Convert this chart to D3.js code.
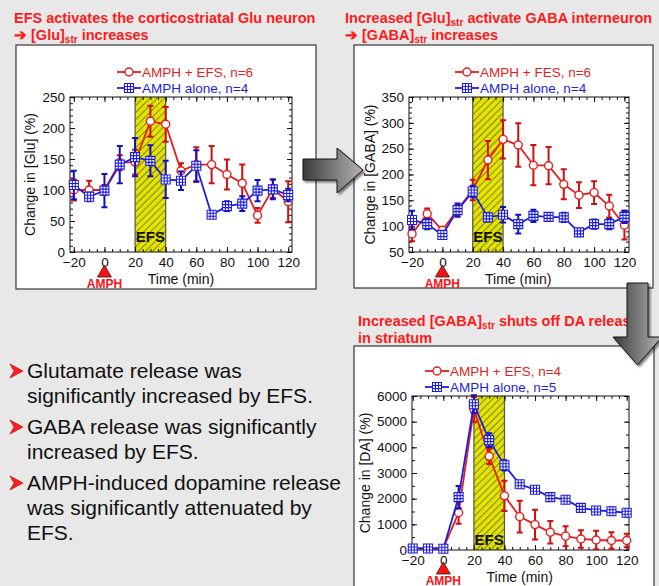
<!DOCTYPE html>
<html lang="en">
<head>
<meta charset="utf-8">
<title>EFS / AMPH microdialysis</title>
<script src="https://cdnjs.cloudflare.com/ajax/libs/d3/7.8.5/d3.min.js"></script>
<style>
  html, body { margin: 0; padding: 0; background: #e8e8e8; }
  svg { display: block; font-family: "Liberation Sans", Arial, sans-serif; }
  .tick-label { font-size: 13.5px; fill: #111; }
  .axis-title { font-size: 14px; fill: #111; }
  .legend { font-size: 13.5px; }
  .slide-title { font-size: 14.5px; font-weight: bold; fill: #ff1a1a; }
  .bullet { font-size: 21px; fill: #111; }
</style>
</head>
<body>
<svg id="slide" width="659" height="586"></svg>
<script>
// ---------------------------------------------
// data
// ---------------------------------------------
var times = [-20, -10, 0, 10, 20, 30, 40, 50, 60, 70, 80, 90, 100, 110, 120];

// glutamate (% of baseline)
var gluEfs      = [100, 100, 100, 144, 145, 211, 206, 131, 141, 141, 125, 111, 59, 102, 81];
var gluEfsErr   = [17, 15, 8, 12, 20, 25, 28, 12, 28, 30, 24, 30, 12, 15, 33];
var gluAlone    = [108, 89, 99, 141, 153, 147, 117, 115, 139, 60, 74, 78, 99, 101, 92];
var gluAloneErr = [23, 7, 27, 30, 31, 25, 30, 15, 25, 5, 8, 12, 17, 16, 10];

// GABA (% of baseline)
var gabaEfs      = [85, 124, 92, 132, 170, 228, 268, 257, 218, 217, 181, 160, 165, 139, 102];
var gabaEfsErr   = [14, 10, 5, 10, 20, 37, 37, 42, 39, 36, 29, 25, 22, 22, 28];
var gabaAlone    = [112, 104, 83, 131, 167, 117, 122, 104, 120, 118, 117, 88, 104, 104, 118];
var gabaAloneErr = [18, 10, 8, 13, 11, 8, 15, 18, 12, 5, 9, 7, 9, 10, 12];

// dopamine (% of baseline)
var daEfs      = [60, 60, 60, 1450, 5480, 3650, 2110, 1300, 990, 690, 540, 430, 390, 370, 370];
var daEfsErr   = [40, 40, 40, 430, 480, 300, 590, 620, 580, 440, 390, 340, 360, 320, 260];
var daAlone    = [60, 60, 50, 2060, 5680, 4280, 3300, 2560, 2350, 2060, 1960, 1640, 1540, 1510, 1450];
var daAloneErr = [40, 40, 40, 430, 350, 270, 200, 100, 100, 80, 80, 100, 80, 150, 150];

// axis ticks
var timeTicks = [-20, 0, 20, 40, 60, 80, 100, 120];
var gluTicks  = [0, 50, 100, 150, 200, 250];
var gabaTicks = [50, 100, 150, 200, 250, 300, 350];
var daTicks   = [0, 1000, 2000, 3000, 4000, 5000, 6000];

var efsWindow = [20, 40];

var RED = "#e41e1e", RED_BAR = "#d01010";
var BLUE = "#1e1ee0", BLUE_BAR = "#1010c8";

var svg = d3.select("#slide");
var defs = svg.append("defs");

// hatch for the stimulation window
var hatch = defs.append("pattern")
    .attr("id", "hatch")
    .attr("patternUnits", "userSpaceOnUse")
    .attr("width", 5).attr("height", 5)
    .attr("patternTransform", "rotate(45)");
hatch.append("rect").attr("width", 5).attr("height", 5).attr("fill", "#e3e300");
hatch.append("line").attr("x1", 0).attr("y1", 0).attr("x2", 0).attr("y2", 5)
    .attr("stroke", "#222").attr("stroke-width", 1);

var grad = defs.append("linearGradient").attr("id", "arrowGrad")
    .attr("x1", "0%").attr("x2", "100%").attr("y1", "0%").attr("y2", "0%");
grad.append("stop").attr("offset", "0%").attr("stop-color", "#3c3c3c");
grad.append("stop").attr("offset", "100%").attr("stop-color", "#b4b4b4");

var shadow = defs.append("filter").attr("id", "shadow")
    .attr("x", "-20%").attr("y", "-20%").attr("width", "150%").attr("height", "150%");
shadow.append("feDropShadow").attr("dx", 2).attr("dy", 2).attr("stdDeviation", 1)
    .attr("flood-color", "#000").attr("flood-opacity", 0.5);

//---------------------------------------------
// titles (with subscript "str")
//---------------------------------------------
function title(x, y, parts) {
  var t = svg.append("text").attr("class", "slide-title").attr("x", x).attr("y", y);
  parts.forEach(function (p) {
    if (typeof p === "object") {
      t.append("tspan").attr("font-size", "10px").attr("dy", 3).text(p.sub);
      t.append("tspan").attr("dy", -3).text(p.after);
    } else {
      t.append("tspan").text(p);
    }
  });
}

//---------------------------------------------
// one chart panel
//---------------------------------------------
function panel(cfg) {
  var g = svg.append("g");

  g.append("rect")
    .attr("x", cfg.box[0]).attr("y", cfg.box[1])
    .attr("width", cfg.box[2]).attr("height", cfg.box[3])
    .attr("fill", "white").attr("stroke", "#444").attr("stroke-width", 1.3);

  var x = d3.scaleLinear().domain(cfg.xDomain).range([cfg.plot[0], cfg.plot[1]]);
  var y = d3.scaleLinear().domain(cfg.yDomain).range([cfg.plot[3], cfg.plot[2]]);

  var top = cfg.plot[2], bottom = cfg.plot[3], left = cfg.plot[0], right = cfg.plot[1];

  // EFS band
  g.append("rect")
    .attr("x", x(efsWindow[0])).attr("y", top)
    .attr("width", x(efsWindow[1]) - x(efsWindow[0])).attr("height", bottom - top)
    .attr("fill", "url(#hatch)");
  g.selectAll(".efs-edge").data(efsWindow).enter().append("line")
    .attr("x1", function (d) { return x(d); }).attr("x2", function (d) { return x(d); })
    .attr("y1", top).attr("y2", bottom)
    .attr("stroke", "#555").attr("stroke-width", 1.2);
  g.append("text")
    .attr("x", x((efsWindow[0] + efsWindow[1]) / 2)).attr("y", cfg.efsY)
    .attr("text-anchor", "middle").attr("font-weight", "bold").attr("font-size", "15px")
    .attr("fill", "#111").text("EFS");

  // frame with inward ticks on all sides
  var minorX = d3.range(-20, 121, 5);
  var minorY = d3.range(cfg.yDomain[0], cfg.yDomain[1] + 0.001, cfg.yMinor);

  g.append("g").attr("transform", "translate(0," + bottom + ")")
    .call(d3.axisBottom(x).tickValues(minorX).tickSize(-3).tickFormat(""));
  g.append("g").attr("transform", "translate(0," + bottom + ")")
    .call(d3.axisBottom(x).tickValues(timeTicks).tickSize(-5).tickPadding(5).tickFormat(d3.format("d")))
    .call(function (a) { a.selectAll("text").attr("class", "tick-label").attr("dy", "0.71em"); });
  g.append("g").attr("transform", "translate(0," + top + ")")
    .call(d3.axisTop(x).tickValues(minorX).tickSize(-3).tickFormat(""));
  g.append("g").attr("transform", "translate(0," + top + ")")
    .call(d3.axisTop(x).tickValues(timeTicks).tickSize(-5).tickFormat(""));

  g.append("g").attr("transform", "translate(" + left + ",0)")
    .call(d3.axisLeft(y).tickValues(minorY).tickSize(-3).tickFormat(""));
  g.append("g").attr("transform", "translate(" + left + ",0)")
    .call(d3.axisLeft(y).tickValues(cfg.yTicks).tickSize(-5).tickPadding(5).tickFormat(d3.format("d")))
    .call(function (a) { a.selectAll("text").attr("class", "tick-label"); });
  g.append("g").attr("transform", "translate(" + right + ",0)")
    .call(d3.axisRight(y).tickValues(minorY).tickSize(-3).tickFormat(""));
  g.append("g").attr("transform", "translate(" + right + ",0)")
    .call(d3.axisRight(y).tickValues(cfg.yTicks).tickSize(-5).tickFormat(""));

  g.selectAll(".domain").remove();
  g.selectAll(".tick line").attr("stroke", "#111");
  g.selectAll(".tick text").attr("font-family", null).attr("font-size", null);

  g.append("rect")
    .attr("x", left).attr("y", top).attr("width", right - left).attr("height", bottom - top)
    .attr("fill", "none").attr("stroke", "#111").attr("stroke-width", 1);

  // axis titles
  g.append("text").attr("class", "axis-title")
    .attr("transform", "translate(" + cfg.yLabelX + "," + ((top + bottom) / 2) + ") rotate(-90)")
    .attr("text-anchor", "middle").text(cfg.yLabel);
  g.append("text").attr("class", "axis-title")
    .attr("x", x(50)).attr("y", cfg.xLabelY).attr("text-anchor", "middle").text("Time (min)");

  // AMPH marker
  var ax = x(0), at = cfg.amphY;
  g.append("path")
    .attr("d", "M" + ax + "," + at + "L" + (ax + 7) + "," + (at + 12) + "L" + (ax - 7) + "," + (at + 12) + "Z")
    .attr("fill", "#ff1010").attr("stroke", "#222").attr("stroke-width", 0.8);
  g.append("text").attr("x", ax).attr("y", at + 23).attr("text-anchor", "middle")
    .attr("font-weight", "bold").attr("font-size", "12px").attr("fill", "#ff1010").text("AMPH");

  // series
  function series(vals, errs, color, barColor, kind) {
    var pts = times.map(function (t, i) { return { t: t, v: vals[i], e: errs[i] }; });
    var sg = g.append("g");
    sg.selectAll(".eb").data(pts).enter().append("path")
      .attr("d", function (d) {
        var cx = x(d.t), y1 = y(d.v - d.e), y2 = Math.max(y(d.v + d.e), top - 2);
        return "M" + cx + "," + y1 + "V" + y2 + "M" + (cx - 3) + "," + y1 + "H" + (cx + 3) +
               "M" + (cx - 3) + "," + y2 + "H" + (cx + 3);
      })
      .attr("fill", "none").attr("stroke", barColor).attr("stroke-width", 2);
    sg.append("path").datum(pts)
      .attr("d", d3.line().x(function (d) { return x(d.t); }).y(function (d) { return y(d.v); }))
      .attr("fill", "none").attr("stroke", color).attr("stroke-width", 1.8);
    drawMarkers(sg, pts.map(function (d) { return [x(d.t), y(d.v)]; }), color, kind);
  }

  series(cfg.efs, cfg.efsErr, RED, RED_BAR, "circle");
  series(cfg.alone, cfg.aloneErr, BLUE, BLUE_BAR, "square");

  // legend
  var lx = cfg.legend[0], ly = cfg.legend[1];
  var lg = g.append("g");
  [[cfg.legendText[0], RED, "circle", ly], [cfg.legendText[1], BLUE, "square", ly + 16]].forEach(function (L) {
    lg.append("line").attr("x1", lx).attr("x2", lx + 24).attr("y1", L[3]).attr("y2", L[3])
      .attr("stroke", L[1]).attr("stroke-width", 1.8);
    drawMarkers(lg, [[lx + 12, L[3]]], L[1], L[2]);
    lg.append("text").attr("class", "legend").attr("x", lx + 25).attr("y", L[3] + 5)
      .attr("fill", L[1]).text(L[0]);
  });
}

function drawMarkers(sel, xy, color, kind) {
  if (kind === "circle") {
    sel.selectAll(null).data(xy).enter().append("circle")
      .attr("cx", function (d) { return d[0]; }).attr("cy", function (d) { return d[1]; })
      .attr("r", 4).attr("fill", "white").attr("stroke", color).attr("stroke-width", 1.4);
  } else {
    var s = 9;
    sel.selectAll(null).data(xy).enter().append("path")
      .attr("d", function (d) {
        var x0 = d[0] - s / 2, y0 = d[1] - s / 2;
        return "M" + x0 + "," + y0 + "h" + s + "v" + s + "h" + (-s) + "Z" +
               "M" + (x0 + s / 3) + "," + y0 + "v" + s +
               "M" + (x0 + 2 * s / 3) + "," + y0 + "v" + s +
               "M" + x0 + "," + (y0 + s / 3) + "h" + s +
               "M" + x0 + "," + (y0 + 2 * s / 3) + "h" + s;
      })
      .attr("fill", "white").attr("stroke", color).attr("stroke-width", 1.1);
  }
}

//---------------------------------------------
// build the slide
//---------------------------------------------
title(14, 23, ["EFS activates the corticostriatal Glu neuron"]);
title(14, 40, ["\u2794 [Glu]", { sub: "str", after: " increases" }]);
title(345, 23, ["Increased [Glu]", { sub: "str", after: " activate GABA interneuron" }]);
title(345, 40, ["\u2794 [GABA]", { sub: "str", after: " increases" }]);
title(358, 326, ["Increased [GABA]", { sub: "str", after: " shuts off DA release" }]);
title(358, 343, ["in striatum"]);

panel({
  box: [16, 45, 300, 244],
  plot: [70, 292, 97, 252],
  xDomain: [-22.5, 122.5], yDomain: [0, 250], yTicks: gluTicks, yMinor: 10,
  efs: gluEfs, efsErr: gluEfsErr, alone: gluAlone, aloneErr: gluAloneErr,
  yLabel: "Change in [Glu] (%)", yLabelX: 35, xLabelY: 284, amphY: 265, efsY: 242,
  legend: [117, 72], legendText: ["AMPH + EFS, n=6", "AMPH alone, n=4"]
});

panel({
  box: [354, 45, 299, 243],
  plot: [409, 629, 97, 252],
  xDomain: [-22, 123], yDomain: [50, 350], yTicks: gabaTicks, yMinor: 10,
  efs: gabaEfs, efsErr: gabaEfsErr, alone: gabaAlone, aloneErr: gabaAloneErr,
  yLabel: "Change in [GABA] (%)", yLabelX: 375, xLabelY: 284, amphY: 265, efsY: 242,
  legend: [455, 72], legendText: ["AMPH + FES, n=6", "AMPH alone, n=4"]
});

panel({
  box: [354, 346, 300, 250],
  plot: [412, 629, 396, 550],
  xDomain: [-20.5, 121.5], yDomain: [0, 6000], yTicks: daTicks, yMinor: 500,
  efs: daEfs, efsErr: daEfsErr, alone: daAlone, aloneErr: daAloneErr,
  yLabel: "Change in [DA] (%)", yLabelX: 370, xLabelY: 582, amphY: 562, efsY: 545,
  legend: [425, 371], legendText: ["AMPH + EFS, n=4", "AMPH alone, n=5"]
});

//---------------------------------------------
// block arrows
//---------------------------------------------
svg.append("path")
  .attr("d", "M303,159 H337 V148 L363,170 L337,193 V180 H303 Z")
  .attr("fill", "url(#arrowGrad)").attr("stroke", "#111").attr("stroke-width", 1)
  .attr("filter", "url(#shadow)");

svg.append("path")
  .attr("d", "M627,283 H648 V337 H662 L637.5,365 L613,337 H627 Z")
  .attr("fill", "url(#arrowGrad)").attr("stroke", "#111").attr("stroke-width", 1)
  .attr("filter", "url(#shadow)");

//---------------------------------------------
// bullet points
//---------------------------------------------
var bullets = [
  ["Glutamate release was", "significantly increased by EFS."],
  ["GABA release was significantly", "increased by EFS."],
  ["AMPH-induced dopamine release", "was significantly attenuated by", "EFS."]
];
var by = 378;
bullets.forEach(function (b) {
  svg.append("path")
    .attr("d", "M" + 10 + "," + (by - 14) + "L" + 23 + "," + (by - 7) + "L" + 10 + "," + by + "L" + 14 + "," + (by - 7) + "Z")
    .attr("fill", "#ff2020").attr("stroke", "#a00").attr("stroke-width", 0.6);
  b.forEach(function (line, i) {
    svg.append("text").attr("class", "bullet").attr("x", 27).attr("y", by + i * 25).text(line);
  });
  by += b.length * 25 + 6;
});
</script>
</body>
</html>
